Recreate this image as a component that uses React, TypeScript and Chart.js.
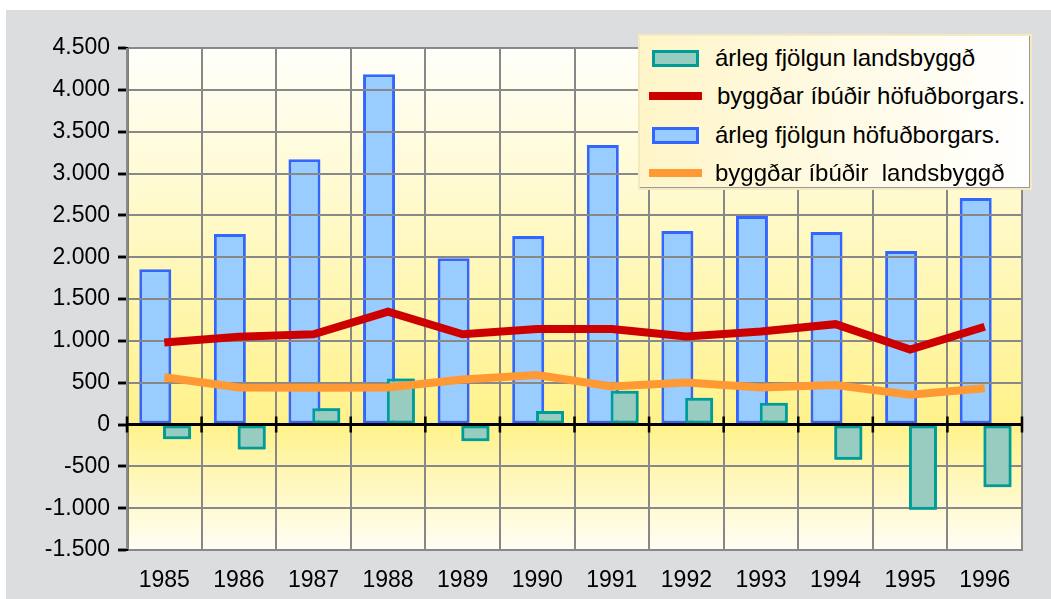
import React, { useEffect, useRef } from 'react';
import { Chart, registerables } from 'chart.js';

Chart.register(...registerables);

// ---------- data ----------
const years = ['1985', '1986', '1987', '1988', '1989', '1990', '1991', '1992', '1993', '1994', '1995', '1996'];
const ruralGrowth = [-175, -300, 195, 550, -200, 160, 404, 320, 261, -420, -1020, -750];
const capitalBuilt = [980, 1049, 1079, 1348, 1079, 1141, 1141, 1052, 1111, 1199, 896, 1168];
const capitalGrowth = [1855, 2277, 3170, 4186, 1986, 2253, 3340, 2313, 2492, 2300, 2074, 2707];
const ruralBuilt = [565, 442, 439, 442, 538, 592, 454, 502, 442, 472, 355, 433];
const seriesLabels = [
  'árleg fjölgun landsbyggð',
  'byggðar íbúðir höfuðborgars.',
  'árleg fjölgun höfuðborgars.',
  'byggðar íbúðir  landsbyggð',
];
const yMin = -1500;
const yMax = 4500;
const yStep = 500;

// ---------- styles ----------
const FONT = "'Liberation Sans', Arial, sans-serif";
const TEAL_FILL = '#99ccc0';
const TEAL_BORDER = '#009c98';
const BLUE_FILL = '#99ccff';
const BLUE_BORDER = '#3366ff';
const RED = '#cc0000';
const ORANGE = '#ff9933';
const GRID = '#888888';

const legendItems = [
  { label: seriesLabels[0], kind: 'box', fill: TEAL_FILL, border: TEAL_BORDER },
  { label: seriesLabels[1], kind: 'line', fill: RED, border: RED },
  { label: seriesLabels[2], kind: 'box', fill: BLUE_FILL, border: BLUE_BORDER },
  { label: seriesLabels[3], kind: 'line', fill: ORANGE, border: ORANGE },
];

const fmt = (v: number) => {
  const s = Math.abs(v).toString().replace(/\B(?=(\d{3})+(?!\d))/g, '.');
  return (v < 0 ? '-' : '') + s;
};

const backgroundPlugin = {
  id: 'bgGradient',
  beforeDraw(chart: any) {
    const { ctx, chartArea, scales } = chart;
    if (!chartArea) return;
    const { left, top, right, bottom } = chartArea;
    ctx.save();
    ctx.fillStyle = '#dcdddf';
    ctx.fillRect(0, 0, chart.width, chart.height);
    const z = scales.y.getPixelForValue(0);
    const g = ctx.createLinearGradient(0, top, 0, bottom);
    g.addColorStop(0, '#fffffb');
    g.addColorStop(Math.min(1, Math.max(0, (z - top) / (bottom - top))), '#fff28a');
    g.addColorStop(1, '#fffef6');
    ctx.fillStyle = g;
    ctx.fillRect(left, top, right - left, bottom - top);
    ctx.restore();
  },
};

// Blue bars (dataset 2) sit under the grid; teal bars (dataset 0) are on top of grid and blue bars.
const layerPlugin = {
  id: 'layering',
  afterDatasetDraw(chart: any, args: any) {
    if (args.index !== 2) return;
    const { ctx, chartArea, scales } = chart;
    scales.x.drawGrid(chartArea);
    scales.y.drawGrid(chartArea);
    chart.getDatasetMeta(0).controller.draw();
    // black zero line with crossing ticks
    const y0 = scales.y.getPixelForValue(0);
    ctx.save();
    ctx.strokeStyle = '#000';
    ctx.lineWidth = 3;
    ctx.beginPath();
    ctx.moveTo(chartArea.left, y0);
    ctx.lineTo(chartArea.right, y0);
    ctx.stroke();
    ctx.lineWidth = 2.5;
    const xs = scales.x;
    const w = xs.getPixelForValue(1) - xs.getPixelForValue(0);
    ctx.beginPath();
    for (let i = 0; i <= years.length; i++) {
      const px = xs.getPixelForValue(0) - w / 2 + i * w;
      ctx.moveTo(px, y0 - 8);
      ctx.lineTo(px, y0 + 8);
    }
    ctx.stroke();
    ctx.restore();
  },
};

export default function App() {
  const ref = useRef<HTMLCanvasElement>(null);

  useEffect(() => {
    const chart = new Chart(ref.current as HTMLCanvasElement, {
      type: 'bar',
      data: {
        labels: years,
        datasets: [
          {
            type: 'bar',
            label: seriesLabels[0],
            data: ruralGrowth,
            order: 4,
            backgroundColor: TEAL_FILL,
            borderColor: TEAL_BORDER,
            borderWidth: 3,
            borderSkipped: false,
            categoryPercentage: 0.6865,
            barPercentage: 1.094,
          },
          {
            type: 'line',
            label: seriesLabels[1],
            data: capitalBuilt,
            order: 1,
            borderColor: RED,
            backgroundColor: RED,
            borderWidth: 8,
            pointRadius: 0,
            tension: 0,
            borderJoinStyle: 'miter',
            borderCapStyle: 'butt',
            fill: false,
          },
          {
            type: 'bar',
            label: seriesLabels[2],
            data: capitalGrowth,
            order: 3,
            backgroundColor: BLUE_FILL,
            borderColor: BLUE_BORDER,
            borderWidth: 3,
            borderSkipped: false,
            categoryPercentage: 0.4827,
            barPercentage: 1.778,
          },
          {
            type: 'line',
            label: seriesLabels[3],
            data: ruralBuilt,
            order: 2,
            borderColor: ORANGE,
            backgroundColor: ORANGE,
            borderWidth: 8,
            pointRadius: 0,
            tension: 0,
            borderJoinStyle: 'miter',
            borderCapStyle: 'butt',
            fill: false,
          },
        ] as any,
      },
      options: {
        responsive: false,
        animation: false,
        events: [],
        layout: { padding: { top: 38, right: 29, left: 0, bottom: 0 } },
        plugins: {
          legend: { display: false },
          tooltip: { enabled: false },
        },
        scales: {
          x: {
            type: 'category',
            offset: true,
            grid: { offset: true, color: GRID, lineWidth: 2, drawTicks: false },
            border: { display: true, color: GRID, width: 2 },
            ticks: { color: '#000', font: { family: FONT, size: 23 }, padding: 17, maxRotation: 0, autoSkip: false },
            afterFit: (s: any) => { s.height = 49; },
          },
          y: {
            type: 'linear',
            min: yMin,
            max: yMax,
            grid: { color: GRID, lineWidth: 2, tickColor: '#000', tickLength: 9, tickWidth: 2.5 },
            border: { display: true, color: '#000', width: 2.5 },
            ticks: {
              stepSize: yStep,
              color: '#000',
              font: { family: FONT, size: 23 },
              padding: 8,
              callback: (v: any) => fmt(Number(v)),
            },
            afterFit: (s: any) => { s.width = 121; },
          },
        },
      } as any,
      plugins: [backgroundPlugin, layerPlugin],
    });
    return () => chart.destroy();
  }, []);

  const rowCenter0 = 24;
  const rowStep = 38.3;

  return (
    <div style={{ position: 'fixed', left: 0, top: 0, width: 1051, height: 599, background: '#ffffff', overflow: 'hidden' }}>
      <canvas
        ref={ref}
        width={1045}
        height={589}
        style={{ position: 'absolute', left: 6, top: 10, width: 1045, height: 589 }}
      />
      <div
        style={{
          position: 'absolute',
          left: 638,
          top: 34,
          width: 394,
          height: 156,
          boxSizing: 'border-box',
          border: '2px solid #f3ebbf',
          boxShadow: 'inset -1px -1px 0 #9a9a9a',
          background: 'linear-gradient(to right, #fff5c8, #ffffff)',
          fontFamily: FONT,
          fontSize: 24,
          color: '#000',
        }}
      >
        {legendItems.map((it, i) => {
          const cy = rowCenter0 + i * rowStep - 2;
          return (
            <div key={i} style={{ position: 'absolute', left: 0, top: cy - 19, height: 38, width: '100%' }}>
              {it.kind === 'box' ? (
                <div
                  style={{
                    position: 'absolute',
                    left: 12,
                    top: 19 - 8,
                    width: 47,
                    height: 17,
                    boxSizing: 'border-box',
                    background: it.fill,
                    border: `3px solid ${it.border}`,
                  }}
                />
              ) : (
                <div
                  style={{
                    position: 'absolute',
                    left: 9,
                    top: 19 - 4,
                    width: 53,
                    height: 8,
                    background: it.fill,
                  }}
                />
              )}
              <div
                style={{
                  position: 'absolute',
                  left: i === 1 ? 77 : 75,
                  top: 0,
                  height: 38,
                  lineHeight: '38px',
                  whiteSpace: 'pre',
                }}
              >
                {it.label}
              </div>
            </div>
          );
        })}
      </div>
    </div>
  );
}
